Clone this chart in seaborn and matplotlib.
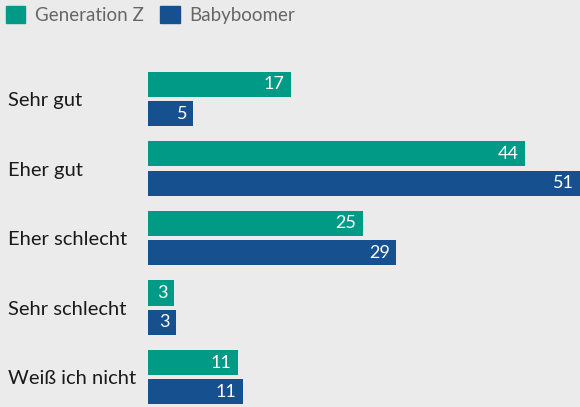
import pandas as pd
import matplotlib.pyplot as plt
import seaborn as sns

# Data
categories = ["Sehr gut", "Eher gut", "Eher schlecht", "Sehr schlecht", "Weiß ich nicht"]
series = ["Generation Z", "Babyboomer"]
gen_z = [16.7, 44.1, 25.1, 3.0, 10.5]        # bar lengths (%)
boomer = [5.3, 50.7, 29.0, 3.3, 11.1]
gen_z_labels = ["17", "44", "25", "3", "11"]
boomer_labels = ["5", "51", "29", "3", "11"]
colors = ["#009a87", "#16508e"]

df = pd.DataFrame({
    "cat": categories * 2,
    "group": [series[0]] * len(categories) + [series[1]] * len(categories),
    "value": gen_z + boomer,
})

sns.set_style("white")
plt.rcParams["font.family"] = ["Lato", "DejaVu Sans"]

bg = "#ebebeb"
fig = plt.figure(figsize=(5.8, 4.07), dpi=100, facecolor=bg)
ax = fig.add_axes([148 / 580, 0, 432 / 580, 347 / 407])
ax.set_facecolor(bg)

sns.barplot(data=df, x="value", y="cat", hue="group", order=categories,
            hue_order=series, palette=colors, orient="h", width=0.84, gap=0.14,
            linewidth=0, saturation=1, ax=ax, legend=False)

xmax = 50.5
ax.set_xlim(0, xmax)
ax.set_ylim(4.43, -0.561)

# value labels inside the bar ends
for cont, labs in zip(ax.containers, [gen_z_labels, boomer_labels]):
    for p, lab in zip(cont.patches, labs):
        ax.annotate(lab, xy=(min(p.get_width(), xmax), p.get_y() + p.get_height() / 2),
                    xytext=(-4.5, 0), textcoords="offset points", ha="right", va="center",
                    color="white", fontsize=13)

ax.set_xticks([])
ax.set_yticks(range(len(categories)))
ax.set_yticklabels(categories, ha="left", fontsize=14.5, color="#1a1a1a")
ax.tick_params(axis="y", length=0, pad=100.8)
ax.set_xlabel("")
ax.set_ylabel("")
for s in ax.spines.values():
    s.set_visible(False)

handles = [plt.Rectangle((0, 0), 1, 1, color=c) for c in colors]
fig.legend(handles, series, loc="upper left", bbox_to_anchor=(0.0, 1.0),
           bbox_transform=fig.transFigure, ncol=2, frameon=False,
           fontsize=13.5, labelcolor="#666666", handlelength=1.05, handleheight=1.05,
           handletextpad=0.5, columnspacing=0.9, borderaxespad=0.0, borderpad=0.3)

fig.savefig("out.png", dpi=100, facecolor=bg)
